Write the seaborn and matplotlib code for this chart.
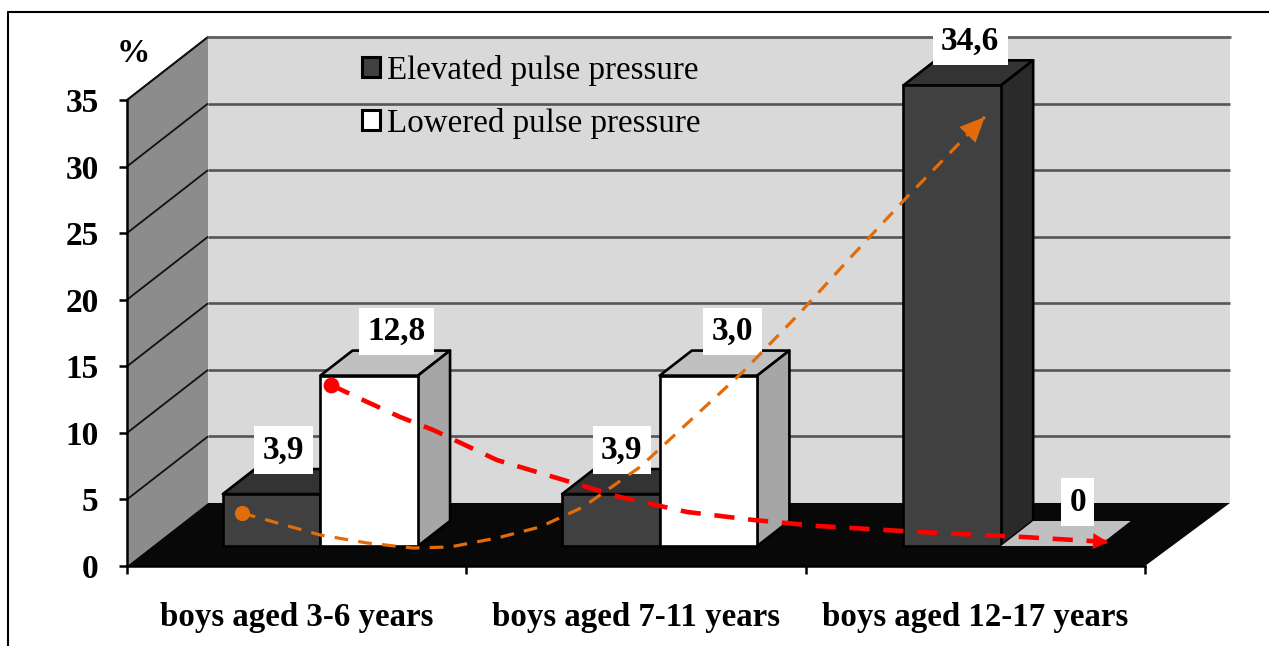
import matplotlib
matplotlib.use("Agg")
import matplotlib.pyplot as plt
import pandas as pd
import seaborn as sns
from matplotlib.patches import Polygon, Patch
from matplotlib.lines import Line2D

categories = ["boys aged 3-6 years", "boys aged 7-11 years", "boys aged 12-17 years"]
series_names = ["Elevated pulse pressure", "Lowered pulse pressure"]
elevated = [3.9, 3.9, 34.6]
lowered = [12.8, 12.8, 0]
value_labels = ["3,9", "12,8", "3,9", "3,0", "34,6", "0"]
y_ticks = [0, 5, 10, 15, 20, 25, 30, 35]

trend_up_x = [-0.161, 0.069, 0.207, 0.343, 0.452, 0.590, 0.717, 0.844, 1.012, 1.315, 1.483, 1.631, 1.799, 2.028]
trend_up_y = [3.98, 2.33, 1.73, 1.35, 1.43, 2.10, 2.93, 4.43, 7.44, 14.58, 19.01, 23.14, 27.72, 33.73]
trend_down_x = [0.101, 0.195, 0.305, 0.402, 0.590, 0.767, 0.953, 1.150, 1.345, 1.533, 1.837, 2.140, 2.391]
trend_down_y = [13.60, 12.47, 11.19, 10.22, 7.96, 6.61, 5.18, 4.06, 3.46, 3.01, 2.55, 2.18, 1.80]

# style
W, H = 1269, 646
SERIF = "Liberation Serif"
PX_X, PX_Y = 339.33, 13.31            # pixels per data unit
DX, DY = 81 / PX_X, 63 / PX_Y         # full depth of the 3D box, in data units
DX_RIGHT = 85 / PX_X                  # the right end of the box slants a little further
D_FRONT, D_BAR = 0.317, 0.397         # bar front position and bar depth (fractions of the box depth)
FACE = {"Elevated pulse pressure": "#404040", "Lowered pulse pressure": "#ffffff"}
TOP = ["#333333", "#c0c0c0"]
SIDE = ["#2a2a2a", "#a6a6a6"]
LABEL_OFF = [12, 27, 11, 24, 18, 28]  # px, label centre from bar centre
GROUP_NUDGE = [-2, -2, 0]             # px

sns.set_theme(style="white")
plt.rcParams["font.family"] = [SERIF, "DejaVu Serif"]

fig = plt.figure(figsize=(W / 100, H / 100), dpi=100, facecolor="white")
ax = fig.add_axes([127 / W, (H - 566) / H, 1018 / W, 466 / H])

df = pd.DataFrame({
    "group": categories * 2,
    "series": [series_names[0]] * 3 + [series_names[1]] * 3,
    "value": elevated + lowered,
})
sns.barplot(data=df, x="group", y="value", hue="series", order=categories,
            hue_order=series_names, palette=FACE, width=0.575, gap=0, legend=False,
            edgecolor="black", linewidth=1.9, saturation=1, ax=ax, zorder=5)

ax.set_xlim(-0.5, 2.5)
ax.set_ylim(0, 35)
ax.set_xlabel("")
ax.set_ylabel("")
ax.grid(False)
ax.patch.set_alpha(0)

# walls and floor
x0, x1 = -0.5, 2.5
xr = x1 + DX_RIGHT
ax.add_patch(Polygon([(x0, 0), (x0, 35), (x0 + DX, 35 + DY), (x0 + DX, DY)], fc="#8c8c8c", ec="none", clip_on=False, zorder=1))
ax.add_patch(Polygon([(x0 + DX, DY), (x0 + DX, 35 + DY), (xr, 35 + DY), (xr, DY)], fc="#d9d9d9", ec="none", clip_on=False, zorder=1))
ax.add_patch(Polygon([(x0, 0), (x1, 0), (xr, DY), (x0 + DX, DY)], fc="#080808", ec="none", clip_on=False, zorder=1.5))
for t in y_ticks[1:]:
    ax.plot([x0, x0 + DX], [t, t + DY], color="#111111", lw=1.3, clip_on=False, zorder=2, solid_capstyle="butt")
    ax.plot([x0 + DX, xr], [t + DY, t + DY], color="#555555", lw=1.9, clip_on=False, zorder=2, solid_capstyle="butt")
ax.plot([x0, x0 + DX], [35, 35 + DY], color="#111111", lw=1.3, clip_on=False, zorder=2)
ax.plot([x0 + DX, xr], [35 + DY, 35 + DY], color="#666666", lw=1.9, clip_on=False, zorder=2)

# bars: move the seaborn bars into depth, then add top and side faces
bars = sorted([p for c in ax.containers for p in c], key=lambda p: p.get_x())
ox, oy = D_FRONT * DX, D_FRONT * DY
bx, by = D_BAR * DX, D_BAR * DY
for k, p in enumerate(bars):
    s = k % 2
    p.set_x(p.get_x() + ox + GROUP_NUDGE[k // 2] / PX_X)
    p.set_y(p.get_y() + oy)
    p.set_clip_on(False)
    xa, xb, yb, yt = p.get_x(), p.get_x() + p.get_width(), p.get_y(), p.get_y() + p.get_height()
    zero = p.get_height() == 0
    if zero:
        p.set_linewidth(0)
    ec, lw = ("none", 0) if zero else ("black", 1.9)
    ax.add_patch(Polygon([(xa, yt), (xb, yt), (xb + bx, yt + by), (xa + bx, yt + by)],
                         fc=TOP[s], ec=ec, lw=lw, joinstyle="round", clip_on=False, zorder=4 + k * 0.1))
    if not zero:
        ax.add_patch(Polygon([(xb, yb), (xb, yt), (xb + bx, yt + by), (xb + bx, yb + by)],
                             fc=SIDE[s], ec=ec, lw=lw, joinstyle="round", clip_on=False, zorder=4 + k * 0.1))
    p.set_zorder(4.05 + k * 0.1)
    ax.annotate(value_labels[k], xy=((xa + xb) / 2, yt + by), xytext=(LABEL_OFF[k] * 0.72, 2.5),
                textcoords="offset points", ha="center", va="bottom",
                fontsize=24, fontweight="bold", color="black", annotation_clip=False,
                bbox=dict(boxstyle="square,pad=0.25", fc="white", ec="none"), zorder=4.5)

# hand-drawn trend curves
up = pd.DataFrame({"x": trend_up_x, "y": trend_up_y})
down = pd.DataFrame({"x": trend_down_x, "y": trend_down_y})
sns.lineplot(data=up, x="x", y="y", sort=False, estimator=None, color="#e36c0a", lw=2.3,
             dashes=False, ax=ax, zorder=8)
ax.lines[-1].set_linestyle((0, (4.3, 3.2)))
sns.lineplot(data=down, x="x", y="y", sort=False, estimator=None, color="#ff0000", lw=3.3,
             dashes=False, ax=ax, zorder=9)
ax.lines[-1].set_linestyle((0, (4.4, 3.0)))
ax.set_xlabel("")
ax.set_ylabel("")
sns.scatterplot(x=trend_up_x[:1], y=trend_up_y[:1], color="#e36c0a", s=120, linewidth=0, ax=ax, zorder=8)
sns.scatterplot(x=trend_down_x[:1], y=trend_down_y[:1], color="#ff0000", s=130, linewidth=0, ax=ax, zorder=9)
arrow_styles = [(trend_up_x, trend_up_y, "#e36c0a", "-|>,head_length=0.6,head_width=0.27", 30),
                (trend_down_x, trend_down_y, "#ff0000", "-|>,head_length=0.45,head_width=0.24", 24)]
for xs, ys, col, style, ms in arrow_styles:
    ax.annotate("", xy=(xs[-1], ys[-1]), xytext=(xs[-2], ys[-2]), annotation_clip=False, zorder=10,
                arrowprops=dict(arrowstyle=style, color=col, lw=0, mutation_scale=ms, shrinkA=0, shrinkB=0))

# axes, ticks
for side in ("top", "right"):
    ax.spines[side].set_visible(False)
for side in ("left", "bottom"):
    ax.spines[side].set_color("black")
    ax.spines[side].set_linewidth(1.8)
    ax.spines[side].set_zorder(3)
ax.set_yticks(y_ticks)
ax.set_xticks([-0.5, 0.5, 1.5, 2.5], minor=True)
ax.tick_params(axis="y", which="major", left=True, length=6, width=1.8, color="black", pad=14.5,
               labelsize=24, labelcolor="black")
ax.tick_params(axis="x", which="major", bottom=False, length=0, pad=26, labelsize=23.7, labelcolor="black")
ax.tick_params(axis="x", which="minor", bottom=True, length=6, width=1.8, color="black")
for lab in ax.get_yticklabels() + ax.get_xticklabels():
    lab.set_fontweight("bold")

fig.text(133 / W, 1 - 53 / H, "%", ha="center", va="center", fontsize=24, fontweight="bold", color="black")

# legend
handles = [Patch(fc=FACE[n], ec="black", lw=2.2, joinstyle="round") for n in series_names]
leg = ax.legend(handles, series_names, loc="upper left", bbox_to_anchor=(362 / W, 1 - 54.5 / H),
                bbox_transform=fig.transFigure, frameon=False, fontsize=23.8, borderpad=0, borderaxespad=0,
                handlelength=0.55, handleheight=0.55, handletextpad=0.21, labelspacing=0.685,
                labelcolor="black")
leg.set_zorder(6)

# outer frame
fig.add_artist(Line2D([8 / W, 8 / W], [0, 1 - 12 / H], color="black", lw=1.5))
fig.add_artist(Line2D([8 / W, 1], [1 - 12 / H, 1 - 12 / H], color="black", lw=1.5))

fig.savefig("out.png", dpi=100, facecolor="white")
